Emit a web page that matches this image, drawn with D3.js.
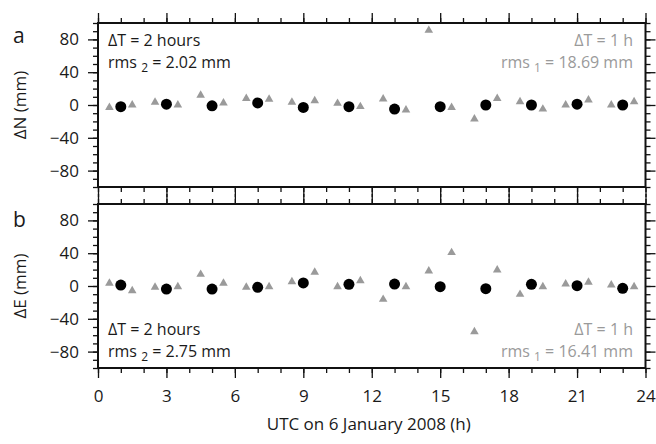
<!DOCTYPE html>
<html>
<head>
<meta charset="utf-8">
<script src="https://cdn.jsdelivr.net/npm/d3@7"></script>
<style>
  body { margin: 0; background: #fff; }
  svg { display: block; }
  text { font-family: "Open Sans", "Noto Sans", sans-serif; }
</style>
</head>
<body>
<script>
// Sampling epochs (UTC hours)
const hours2 = [1, 3, 5, 7, 9, 11, 13, 15, 17, 19, 21, 23];
const hours1 = [0.5, 1.5, 2.5, 3.5, 4.5, 5.5, 6.5, 7.5, 8.5, 9.5, 10.5, 11.5,
                12.5, 13.5, 14.5, 15.5, 16.5, 17.5, 18.5, 19.5, 20.5, 21.5, 22.5, 23.5];

// North offsets (mm)
const dN2 = [-2, 1, -1, 2.5, -3, -2, -5, -2, 0, 0, 1, 0];
const dN1 = [-3, 0, 3.3, 0, 12, 2.5, 8, 7, 3.3, 5.3, 2, -2,
             7.4, -6, 91, -3, -17, 8, 4, -5, 0, 6, 0, 4];

// East offsets (mm)
const dE2 = [1.2, -3.7, -3.7, -1.6, 3.7, 2, 2.4, -0.8, -3.3, 2, 0.4, -2.8];
const dE1 = [3.3, -5.7, -1.6, -0.8, 14.2, 3.3, -1.6, -0.8, 5.3, 16.7, -0.8, 6.5,
             -16.3, -0.8, 18.3, 40.7, -55.7, 19.5, -10.2, -0.8, 2.4, 4.5, 1.2, -0.8];

// Axis ticks
const xMajor = [0, 3, 6, 9, 12, 15, 18, 21, 24];
const xMinor = [0, 1, 2, 3, 4, 5, 6, 7, 8, 9, 10, 11, 12, 13, 14, 15, 16, 17, 18, 19, 20, 21, 22, 23, 24];
const yMajor = [-80, -40, 0, 40, 80];
const yMinor = [-100, -90, -80, -70, -60, -50, -40, -30, -20, -10, 0, 10, 20, 30, 40, 50, 60, 70, 80, 90, 100];

// Panel labels and annotations
const panelLetters = ["a", "b"];
const yTitles = ["ΔN (mm)", "ΔE (mm)"];
const rms2Text = ["2.02", "2.75"];
const rms1Text = ["18.69", "16.41"];
const xTitle = "UTC on 6 January 2008 (h)";

const W = 656, H = 444;
const left = 98, right = 645.5;
const panelTops = [23, 204];
const panelH = 164;
const grey = "#9a9a9a";
const fs = 17;
const noteFs = 16;

const svg = d3.select("body").append("svg").attr("width", W).attr("height", H);

const x = d3.scaleLinear().domain([0, 24]).range([left, right]);

const panels = [
  { s2: dN2, s1: dN1, top: panelTops[0], textTop: true },
  { s2: dE2, s1: dE1, top: panelTops[1], textTop: false }
];

panels.forEach((p, i) => {
  const y = d3.scaleLinear().domain([-100, 100]).range([p.top + panelH, p.top]);
  const g = svg.append("g");

  const styleAxis = sel => {
    sel.select(".domain").remove();
    sel.selectAll(".tick line").attr("stroke", "#111").attr("stroke-width", 1.3);
    sel.selectAll("text").attr("font-size", fs).attr("fill", "#1a1a1a");
  };

  // left axis
  g.append("g").attr("transform", `translate(${left},0)`)
    .call(d3.axisLeft(y).tickValues(yMinor).tickSize(5).tickFormat(""))
    .call(styleAxis);
  g.append("g").attr("transform", `translate(${left},0)`)
    .call(d3.axisLeft(y).tickValues(yMajor).tickSize(10).tickPadding(9).tickFormat(d3.format("d")))
    .call(styleAxis);
  // right axis
  g.append("g").attr("transform", `translate(${right},0)`)
    .call(d3.axisRight(y).tickValues(yMinor).tickSize(5).tickFormat(""))
    .call(styleAxis);
  g.append("g").attr("transform", `translate(${right},0)`)
    .call(d3.axisRight(y).tickValues(yMajor).tickSize(10).tickFormat(""))
    .call(styleAxis);
  // top axis
  g.append("g").attr("transform", `translate(0,${p.top})`)
    .call(d3.axisTop(x).tickValues(xMinor).tickSize(5).tickFormat(""))
    .call(styleAxis);
  g.append("g").attr("transform", `translate(0,${p.top})`)
    .call(d3.axisTop(x).tickValues(xMajor).tickSize(10).tickFormat(""))
    .call(styleAxis);
  // bottom axis (labels only on lower panel)
  g.append("g").attr("transform", `translate(0,${p.top + panelH})`)
    .call(d3.axisBottom(x).tickValues(xMinor).tickSize(5).tickFormat(""))
    .call(styleAxis);
  g.append("g").attr("transform", `translate(0,${p.top + panelH})`)
    .call(d3.axisBottom(x).tickValues(xMajor).tickSize(10).tickPadding(12)
      .tickFormat(i === panels.length - 1 ? d3.format("d") : ""))
    .call(styleAxis);

  // frame
  g.append("rect")
    .attr("x", left).attr("y", p.top)
    .attr("width", right - left).attr("height", panelH)
    .attr("fill", "none").attr("stroke", "#111").attr("stroke-width", 2);

  // 1-hour solutions (grey triangles)
  g.append("g").selectAll("path")
    .data(hours1.map((h, k) => [h, p.s1[k]]))
    .join("path")
    .attr("d", d3.symbol(d3.symbolTriangle, 32))
    .attr("transform", d => `translate(${x(d[0])},${y(d[1])})`)
    .attr("fill", grey);

  // 2-hour solutions (black dots)
  g.append("g").selectAll("circle")
    .data(hours2.map((h, k) => [h, p.s2[k]]))
    .join("circle")
    .attr("cx", d => x(d[0])).attr("cy", d => y(d[1]))
    .attr("r", 5.5).attr("fill", "#000");

  // panel letter
  g.append("text")
    .attr("x", 13).attr("y", p.top + (i === 0 ? 20 : 23))
    .attr("font-size", 21).attr("fill", "#1a1a1a")
    .text(panelLetters[i]);

  // y title
  g.append("text")
    .attr("transform", `translate(26,${y(0)}) rotate(-90)`)
    .attr("text-anchor", "middle")
    .attr("font-size", fs).attr("fill", "#1a1a1a")
    .text(yTitles[i]);

  // annotations
  const b1 = p.textTop ? p.top + 23 : p.top + 131;
  const b2 = b1 + 22;

  g.append("text").attr("x", 108).attr("y", b1)
    .attr("font-size", noteFs).attr("fill", "#1a1a1a").text("ΔT = 2 hours");
  const r2 = g.append("text").attr("x", 108).attr("y", b2)
    .attr("font-size", noteFs).attr("fill", "#1a1a1a");
  r2.append("tspan").text("rms ");
  r2.append("tspan").attr("font-size", 12).attr("dy", 4).text("2");
  r2.append("tspan").attr("dy", -4).text(" = " + rms2Text[i] + " mm");

  g.append("text").attr("x", 633).attr("y", b1)
    .attr("text-anchor", "end")
    .attr("font-size", noteFs).attr("fill", grey).text("ΔT = 1 h");
  const r1 = g.append("text").attr("x", 633).attr("y", b2)
    .attr("text-anchor", "end")
    .attr("font-size", noteFs).attr("fill", grey);
  r1.append("tspan").text("rms ");
  r1.append("tspan").attr("font-size", 12).attr("dy", 4).text("1");
  r1.append("tspan").attr("dy", -4).text(" = " + rms1Text[i] + " mm");
});

// x title
svg.append("text")
  .attr("x", (left + right) / 2 - 3).attr("y", 430)
  .attr("text-anchor", "middle")
  .attr("font-size", fs).attr("fill", "#1a1a1a")
  .text(xTitle);
</script>
</body>
</html>
